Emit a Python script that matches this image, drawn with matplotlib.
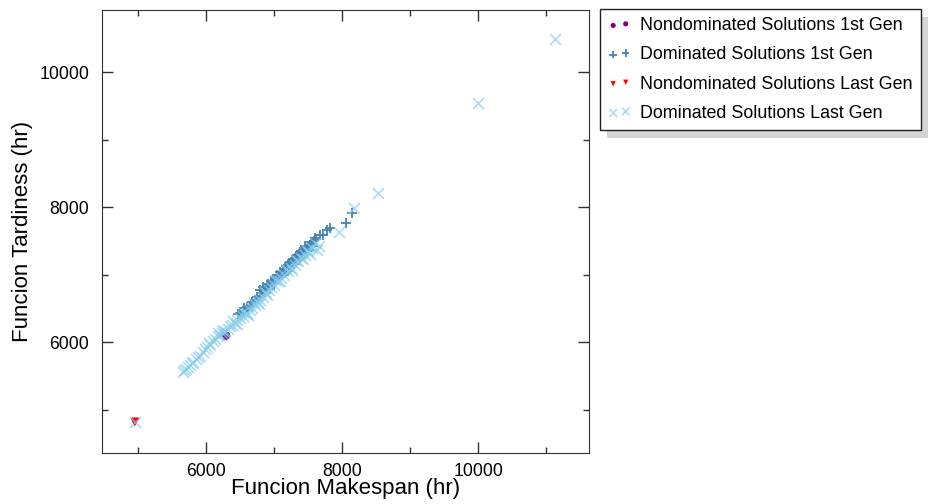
import numpy as np
import matplotlib
matplotlib.use("Agg")
import matplotlib.pyplot as plt
from matplotlib.patches import Rectangle
from matplotlib.ticker import MultipleLocator

plt.rcParams['font.family'] = ['Liberation Sans', 'DejaVu Sans']

# Nondominated solutions, first generation
nd1_x = [6280, 6292, 6300]
nd1_y = [6095, 6104, 6112]

# Dominated solutions, first generation
d1_x = [6470, 6500, 6540, 6600, 6640, 6680, 6720, 6750, 6790, 6820, 6850, 6880,
        6900, 6930, 6950, 6970, 6990, 7010, 7030, 7050, 7070, 7090, 7110, 7130,
        7150, 7170, 7190, 7210, 7230, 7250, 7270, 7290, 7310, 7330, 7350, 7370,
        7390, 7410, 7430, 7450, 7470, 7500, 7530, 7560, 7590, 7620, 7680, 7720,
        7780, 7820, 8060, 8150,
        6960, 7000, 7040, 7060, 7080, 7120, 7140, 7160, 7180, 7200, 7220, 7240,
        7260, 7280, 7300, 7320, 7340, 7360, 7380, 7400, 7420, 7440, 7460, 7480,
        7540, 7570, 7600, 6560, 6620, 6810, 6840, 6870, 6910, 6940]
d1_y = [6410, 6430, 6450, 6520, 6540, 6600, 6630, 6670, 6770, 6720, 6760, 6800,
        6790, 6850, 6870, 6860, 6910, 6920, 6930, 6970, 6980, 7000, 7030, 7030,
        7070, 7080, 7100, 7130, 7130, 7170, 7180, 7200, 7230, 7230, 7270, 7280,
        7300, 7330, 7330, 7370, 7380, 7400, 7440, 7470, 7500, 7520, 7590, 7580,
        7660, 7690, 7765, 7910,
        6900, 6880, 6990, 6930, 7040, 6990, 7080, 7020, 7130, 7060, 7170, 7100,
        7210, 7150, 7250, 7180, 7290, 7220, 7330, 7260, 7370, 7300, 7420, 7350,
        7480, 7420, 7540, 6500, 6480, 6680, 6810, 6740, 6860, 6790]

# Nondominated solutions, last generation
ndl_x = [4945, 4955, 4962]
ndl_y = [4812, 4825, 4832]

# Dominated solutions, last generation
dl_x = [5660, 5680, 5700, 5730, 5760, 5790, 5810, 5850, 5880, 5910, 5950, 5990,
        6020, 6060, 6100, 6130, 6170, 6200, 6230, 6260, 6280, 6320, 6350, 6380,
        6420, 6460, 6500, 6540, 6580, 6600, 6640, 6680, 6720, 6760, 6800, 6840,
        6880, 6920, 6960, 7000, 7050, 7100, 7150, 7200, 7250, 7300, 7350, 7400,
        7450, 7500, 7560, 7630, 7960, 8180, 8530, 10000, 11130, 4960,
        6400, 6450, 6550, 6620, 6700, 6780, 6860, 6900, 7020, 7080, 7180, 7260,
        7320, 7420, 7480, 7520, 7600, 7660, 6180, 6240, 6050]
dl_y = [5556, 5580, 5600, 5625, 5660, 5690, 5705, 5745, 5780, 5800, 5850, 5905,
        5930, 5960, 6010, 6050, 6090, 6110, 6140, 6150, 6170, 6200, 6240, 6260,
        6290, 6330, 6350, 6390, 6420, 6430, 6470, 6510, 6550, 6590, 6620, 6670,
        6720, 6770, 6810, 6850, 6910, 6950, 6990, 7050, 7100, 7140, 7200, 7250,
        7290, 7330, 7400, 7365, 7630, 7990, 8205, 9540, 10490, 4820,
        6320, 6270, 6440, 6400, 6580, 6560, 6740, 6700, 6920, 6900, 7080, 7070,
        7220, 7230, 7370, 7300, 7470, 7420, 6130, 6180, 5990]

fig = plt.figure(figsize=(9.43, 5.04), dpi=100)
ax = fig.add_axes([0.108, 0.101, 0.517, 0.879])

ax.scatter(nd1_x, nd1_y, marker='o', s=28, color='purple', linewidths=0,
           label='Nondominated Solutions 1st Gen')
ax.scatter(d1_x, d1_y, marker='+', s=58, color='#4682B4', linewidths=1.3,
           label='Dominated Solutions 1st Gen')
ax.scatter(ndl_x, ndl_y, marker='v', s=30, color='red', linewidths=0,
           label='Nondominated Solutions Last Gen')
ax.scatter(dl_x, dl_y, marker='x', s=62, color='#87CEEB', alpha=0.75,
           linewidths=1.1, label='Dominated Solutions Last Gen')

ax.set_xlim(4470, 11630)
ax.set_ylim(4356, 10918)
ax.xaxis.set_major_locator(MultipleLocator(2000))
ax.xaxis.set_minor_locator(MultipleLocator(1000))
ax.yaxis.set_major_locator(MultipleLocator(2000))
ax.yaxis.set_minor_locator(MultipleLocator(1000))
ax.tick_params(which='both', direction='in', top=True, right=True,
               labelsize=12.7, color='#303030')
ax.tick_params(which='major', length=8, width=1)
ax.tick_params(which='minor', length=4, width=1)
ax.tick_params(axis='x', pad=7)
ax.tick_params(axis='y', pad=9)
for sp in ax.spines.values():
    sp.set_color('#303030')

ax.set_xlabel('Funcion Makespan (hr)', fontsize=16, labelpad=-1)
ax.set_ylabel('Funcion Tardiness (hr)', fontsize=16, labelpad=5)

leg = fig.legend(loc='upper left', bbox_to_anchor=(0.636, 0.982),
                 bbox_transform=fig.transFigure, fontsize=12.9, scatterpoints=2,
                 markerscale=0.7, fancybox=False, edgecolor='#202020',
                 framealpha=1, handlelength=1.3, handletextpad=0.5,
                 borderpad=0.45, labelspacing=0.68, borderaxespad=0)
leg.get_frame().set_linewidth(1)
leg._legend_box.align = 'left'

fig.canvas.draw()
bb = leg.get_window_extent()
shadow = Rectangle((bb.x0 + 7, bb.y0 - 8), bb.width, bb.height,
                   transform=None, facecolor='#d4d4d4', edgecolor='none',
                   zorder=leg.get_zorder() - 1)
fig.patches.append(shadow)

fig.savefig('out.png', dpi=100)
